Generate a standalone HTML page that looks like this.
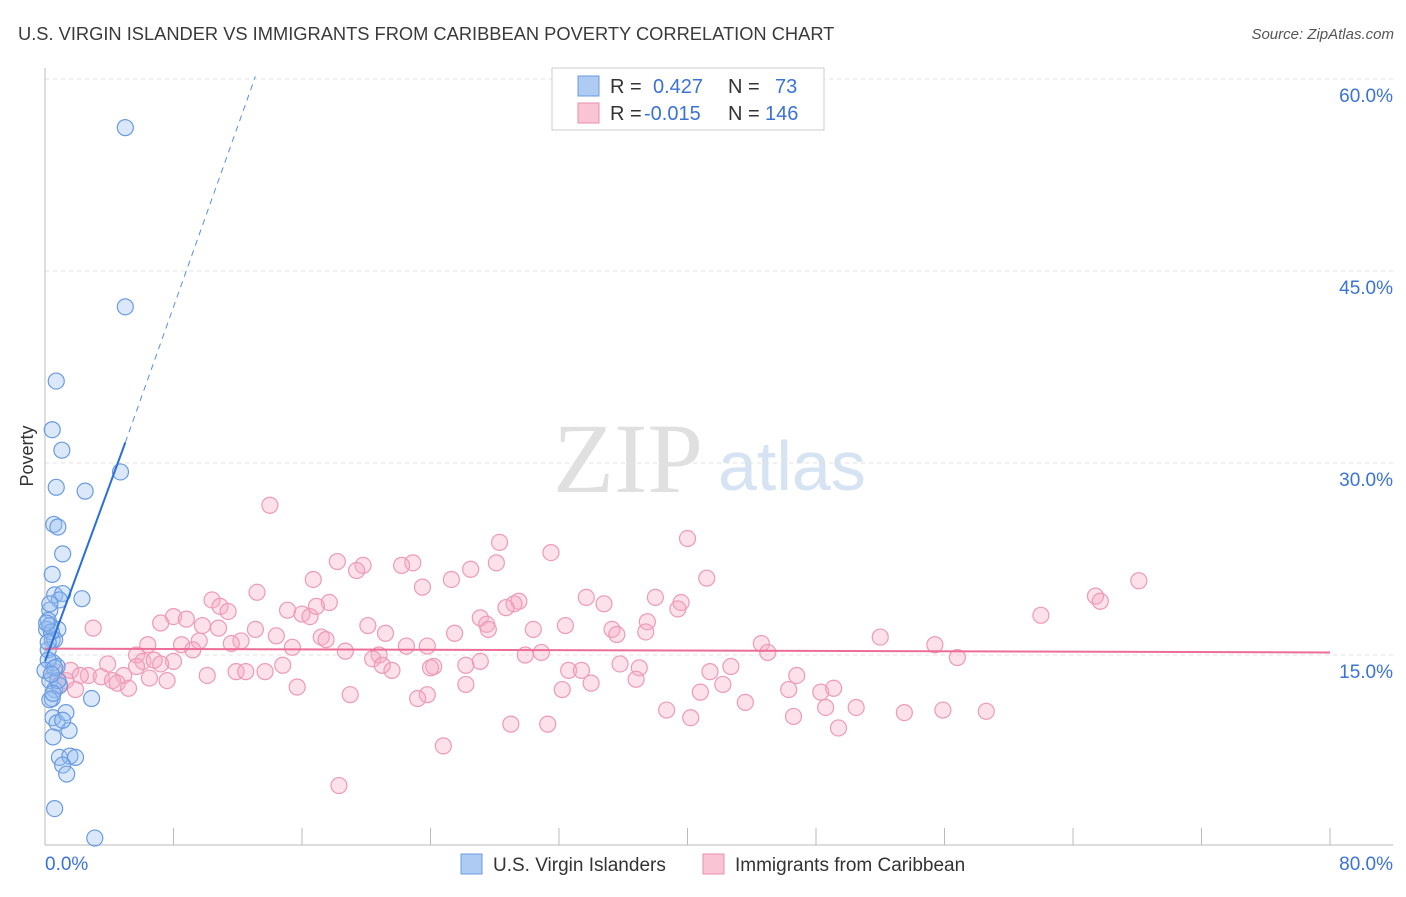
<!DOCTYPE html>
<html><head><meta charset="utf-8"><style>
body{margin:0;background:#fff;font-family:"Liberation Sans",sans-serif}
svg text{font-family:"Liberation Sans",sans-serif}
svg text.serif{font-family:"Liberation Serif",serif}
</style></head><body>
<svg id="chart" width="1406" height="892">
<text x="18" y="40" font-size="18.3" fill="#3a3a3a">U.S. VIRGIN ISLANDER VS IMMIGRANTS FROM CARIBBEAN POVERTY CORRELATION CHART</text>
<text x="1394" y="39" font-size="15" fill="#555" font-style="italic" text-anchor="end">Source: ZipAtlas.com</text>
<g>
<text class="serif" x="553" y="492" font-size="100" fill="#e0e0e0">ZIP</text>
<text x="718" y="490" font-size="70" fill="#d5e3f3">atlas</text>
</g>
<g id="grid"></g>
<g id="axes"></g>
<g id="marks"></g>
<g id="legend">
<rect x="552" y="68" width="272" height="62" fill="#fff" stroke="#ccc"/>
<rect x="578" y="76" width="21" height="20" fill="#aecbf3" stroke="#6a9be0"/>
<rect x="578" y="103" width="21" height="20" fill="#f9c4d4" stroke="#ea8fab"/>
<text x="610" y="93" font-size="20" fill="#333">R = </text><text x="653" y="93" font-size="20" fill="#3b73d4">0.427</text>
<text x="728" y="93" font-size="20" fill="#333">N = </text><text x="775" y="93" font-size="20" fill="#3b73d4">73</text>
<text x="610" y="120" font-size="20" fill="#333">R = </text><text x="644" y="120" font-size="20" fill="#3b73d4">-0.015</text>
<text x="728" y="120" font-size="20" fill="#333">N = </text><text x="765" y="120" font-size="20" fill="#3b73d4">146</text>
</g>
<g>
<rect x="461" y="854" width="21" height="20" fill="#aecbf3" stroke="#6a9be0"/>
<text x="493" y="871" font-size="19" fill="#333">U.S. Virgin Islanders</text>
<rect x="703" y="854" width="21" height="20" fill="#f9c4d4" stroke="#ea8fab"/>
<text x="735" y="871" font-size="19" fill="#333">Immigrants from Caribbean</text>
</g>
<text transform="translate(33,456) rotate(-90)" font-size="18" fill="#333" text-anchor="middle">Poverty</text>
</svg>
<script>
const yTicks=[15,30,45,60];
const xTickLabels=["0.0%","80.0%"];
const blueX=[5.0,5.0,0.7,0.45,1.05,0.7,2.5,4.7,0.55,0.8,1.1,0.45,2.3,0.6,1.1,0.3,0.2,0.1,0.45,0.8,0.2,0.5,0.75,0.3,0.6,0.9,0.45,2.9,0.5,0.75,1.3,1.5,1.1,0.5,0.9,1.55,1.9,1.1,1.35,0.6,3.1,0.2,0.6,0.3,0.9,0.3,0.8,0.0,0.4,0.2,0.6,0.1,0.3,0.5,0.4];
const blueY=[56.2,42.2,36.4,32.6,31.0,28.1,27.8,29.3,25.2,25.0,22.9,21.3,19.4,19.7,19.8,18.5,17.7,17.0,16.2,17.0,15.4,14.4,14.1,13.0,12.3,12.6,11.6,11.6,10.1,9.7,10.5,9.1,9.9,8.6,7.0,7.1,7.0,6.4,5.7,3.0,0.7,14.6,16.2,17.3,19.3,11.5,13.0,13.8,16.8,16.0,14.0,17.5,19.0,12.0,13.5];
const pinkX=[14.0,40.0,28.3,31.5,22.9,19.8,18.2,19.4,22.2,26.5,28.1,41.2,68.1,65.4,65.7,62.0,16.7,25.3,23.5,13.2,10.4,10.9,11.4,15.1,16.0,16.5,17.7,16.9,29.5,29.2,28.7,33.7,34.8,38.0,39.6,39.4,27.1,27.5,27.6,32.4,30.4,35.3,35.6,37.5,37.4,20.1,21.2,25.5,8.0,7.2,8.8,9.8,10.8,13.1,14.4,15.4,12.2,6.4,8.5,9.6,11.6,17.2,17.5,22.5,23.8,52.0,55.4,44.6,45.0,56.8,30.9,29.9,18.7,20.8,20.4,21.0,21.6,5.7,6.1,6.8,8.0,9.2,3.0,3.9,4.9,5.7,6.5,7.2,10.1,11.9,12.5,13.7,14.8,24.2,24.0,26.2,27.1,32.6,33.4,35.8,37.0,36.8,41.4,42.7,46.8,2.7,3.5,4.2,4.5,5.2,7.6,15.7,23.8,23.2,26.2,34.0,32.2,40.8,42.2,43.6,46.3,48.3,49.1,19.0,38.7,40.2,46.6,50.5,53.5,55.9,58.6,48.6,49.4,29.0,31.3,24.8,18.3,1.3,1.9,0.9,1.6,2.2,0.6];
const pinkY=[26.7,24.1,23.8,23.0,22.2,22.0,22.3,21.6,22.0,21.7,22.2,21.0,20.8,19.6,19.2,18.1,20.9,20.9,20.3,19.9,19.3,18.8,18.4,18.5,18.2,18.0,19.1,18.8,19.2,19.0,18.7,19.5,19.0,19.5,19.1,18.6,17.9,17.4,17.0,17.3,17.0,17.0,16.6,17.6,16.8,17.3,16.7,16.7,18.0,17.5,17.8,17.3,17.1,17.0,16.5,15.6,16.1,15.8,15.8,16.1,15.9,16.4,16.2,15.7,15.7,16.4,15.8,15.9,15.2,14.8,15.2,15.0,15.3,15.0,14.7,14.2,13.8,15.0,14.5,14.6,14.5,15.4,17.1,14.3,13.4,14.1,13.2,14.3,13.4,13.7,13.7,13.7,14.2,14.1,14.0,14.2,14.5,13.8,13.8,14.3,14.0,13.1,13.7,14.1,13.4,13.4,13.3,13.0,12.8,12.4,13.0,12.5,11.9,11.6,12.7,12.8,12.3,12.1,12.7,11.3,12.3,12.1,12.4,11.9,10.7,10.1,10.2,10.9,10.5,10.7,10.6,10.9,9.3,9.6,9.6,7.9,4.8,13.0,12.3,12.7,13.8,13.4,13.7];
const blueTrend=[[0,14.5],[5.0,31.6],[13.1,60.2]];
const pinkTrend=[[0,15.5],[80,15.2]];
const NS="http://www.w3.org/2000/svg";
const X0=45,X1=1330,Y0=847,PXY=12.8;
const sx=v=>X0+(X1-X0)*v/80;
const sy=v=>Y0-v*PXY;
function mk(tag,attrs,parent){const e=document.createElementNS(NS,tag);for(const k in attrs)e.setAttribute(k,attrs[k]);document.getElementById(parent).appendChild(e);return e;}
yTicks.forEach(t=>{
 const g=mk('line',{x1:45,x2:1393,y1:sy(t),y2:sy(t),stroke:'#e2e2e2','stroke-dasharray':'4,4'},'grid');
 
 
 const l=mk('text',{x:1393,y:sy(t)+23,'font-size':19,fill:'#3b73d4','text-anchor':'end'},'axes');
 l.textContent=t.toFixed(1)+'%';
 
 
});
let ax=mk('line',{x1:45,x2:1393,y1:845,y2:845,stroke:'#bbb'},'axes');


let ay=mk('line',{x1:45,x2:45,y1:68,y2:845,stroke:'#bbb'},'axes');


for(let i=0;i<=10;i++){const t=mk('line',{x1:sx(i*8),x2:sx(i*8),y1:828,y2:845,stroke:'#bbb'},'axes');
 
 }
xTickLabels.forEach((s,i)=>{const t=mk('text',{x:i?1393:45,y:870,'font-size':19,fill:'#3b73d4','text-anchor':i?'end':'start'},'axes');t.textContent=s;
 
 });
pinkX.forEach((x,i)=>{const c=mk('circle',{cx:sx(x),cy:sy(pinkY[i]),r:8,fill:'rgba(246,170,195,0.35)',stroke:'#ee9ab5','stroke-width':1.2},'marks');
 
 });
blueX.forEach((x,i)=>{const c=mk('circle',{cx:sx(x),cy:sy(blueY[i]),r:8,fill:'rgba(150,190,240,0.35)',stroke:'#6a9be0','stroke-width':1.2},'marks');
 
 });
let pl=mk('line',{x1:sx(pinkTrend[0][0]),y1:sy(pinkTrend[0][1]),x2:sx(pinkTrend[1][0]),y2:sy(pinkTrend[1][1]),stroke:'#ec6d96','stroke-width':2},'marks');


let bl=mk('line',{x1:sx(blueTrend[0][0]),y1:sy(blueTrend[0][1]),x2:sx(blueTrend[1][0]),y2:sy(blueTrend[1][1]),stroke:'#2a6fd6','stroke-width':2},'marks');


let bd=mk('line',{x1:sx(blueTrend[1][0]),y1:sy(blueTrend[1][1]),x2:sx(blueTrend[2][0]),y2:sy(blueTrend[2][1]),stroke:'#5a8fe0','stroke-width':1,'stroke-dasharray':'6,5'},'marks');


</script>
</body></html>
